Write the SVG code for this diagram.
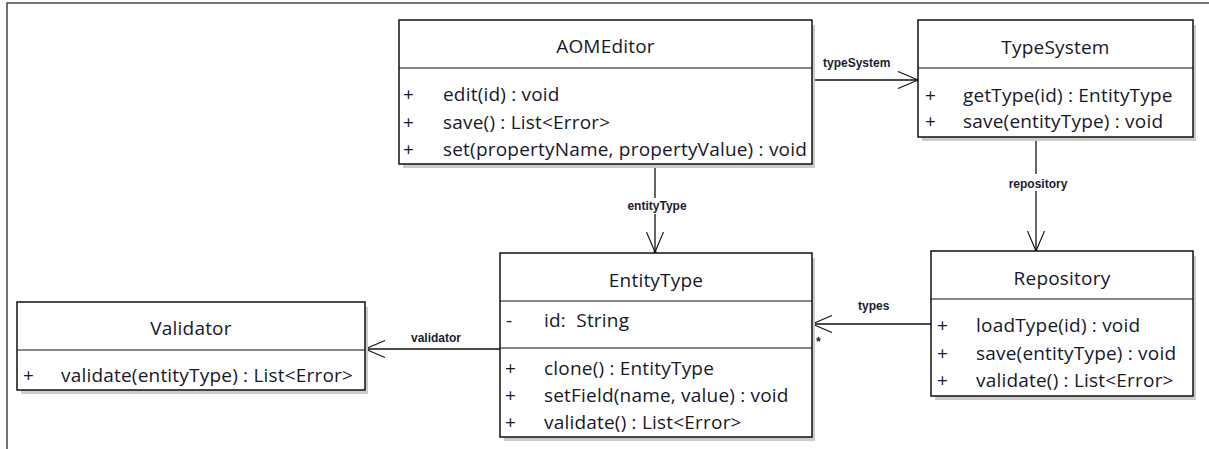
<svg xmlns="http://www.w3.org/2000/svg" width="1209" height="449" viewBox="0 0 1209 449">
<style>
.frame{fill:none;stroke:#444;stroke-width:1.5}
.shadow{fill:#cccccc}
.box{fill:#fff;stroke:#111;stroke-width:1.5}
.div{stroke:#111;stroke-width:1.2}
.t{font-family:"Open Sans","Liberation Sans",sans-serif;font-size:19px;letter-spacing:0.2px;fill:#18182a;white-space:pre}
.c{text-anchor:middle}
.line{fill:none;stroke:#111;stroke-width:1.3}
.lbl{font-family:"Liberation Sans",Arial,sans-serif;font-size:12px;font-weight:bold;fill:#1c1c30}
</style>
<defs>
<marker id="open" markerUnits="userSpaceOnUse" viewBox="-22 -10 24 20" refX="0" refY="0" markerWidth="24" markerHeight="20" orient="auto">
<path d="M-20,-8.5 L0,0 L-20,8.5" fill="none" stroke="#111" stroke-width="1.1"/>
<circle cx="0" cy="0" r="1.6" fill="#111"/>
</marker>
</defs>
<rect width="1209" height="449" fill="#fff"/>
<polyline class="frame" points="7,449 7,3 1209,3"/>

<g id="connectors">
<path class="line" d="M812,80 H918" marker-end="url(#open)"/>
<text class="lbl" x="823" y="67">typeSystem</text>
<path class="line" d="M655,164 V252" marker-end="url(#open)"/>
<rect x="624" y="198" width="66" height="16" fill="#fff"/>
<text class="lbl c" x="657" y="210">entityType</text>
<path class="line" d="M1036,137 V251" marker-end="url(#open)"/>
<rect x="1004" y="174" width="68" height="17" fill="#fff"/>
<text class="lbl c" x="1038" y="188">repository</text>
<path class="line" d="M931,324 H812" marker-end="url(#open)"/>
<text class="lbl" x="858" y="310">types</text>
<text class="lbl" x="816" y="346" font-size="9">*</text>
<path class="line" d="M500,349 H365" marker-end="url(#open)"/>
<text class="lbl" x="411" y="342">validator</text>
</g>

<g id="AOMEditor">
<rect class="shadow" x="403" y="25" width="412" height="143"/>
<rect class="box" x="399" y="20" width="413" height="144"/>
<line class="div" x1="399" y1="68" x2="812" y2="68"/>
<text class="t c" x="605.5" y="53">AOMEditor</text>
<text class="t" x="403" y="101">+</text><text class="t" x="443" y="101">edit(id) : void</text>
<text class="t" x="403" y="128.5">+</text><text class="t" x="443" y="128.5">save() : List&lt;Error&gt;</text>
<text class="t" x="403" y="156">+</text><text class="t" x="443" y="156">set(propertyName, propertyValue) : void</text>
</g>

<g id="TypeSystem">
<rect class="shadow" x="922" y="25" width="274" height="116"/>
<rect class="box" x="918" y="20" width="275" height="117"/>
<line class="div" x1="918" y1="68" x2="1193" y2="68"/>
<text class="t c" x="1055.5" y="54">TypeSystem</text>
<text class="t" x="925" y="102">+</text><text class="t" x="963" y="102">getType(id) : EntityType</text>
<text class="t" x="925" y="128">+</text><text class="t" x="963" y="128">save(entityType) : void</text>
</g>

<g id="EntityType">
<rect class="shadow" x="504" y="258" width="311" height="183"/>
<rect class="box" x="500" y="253" width="312" height="184"/>
<line class="div" x1="500" y1="301" x2="812" y2="301"/>
<line class="div" x1="500" y1="348" x2="812" y2="348"/>
<text class="t c" x="656" y="287">EntityType</text>
<text class="t" x="506" y="327">-</text><text class="t" x="544" y="327">id:  String</text>
<text class="t" x="505" y="375">+</text><text class="t" x="544" y="375">clone() : EntityType</text>
<text class="t" x="505" y="402">+</text><text class="t" x="544" y="402">setField(name, value) : void</text>
<text class="t" x="505" y="429">+</text><text class="t" x="544" y="429">validate() : List&lt;Error&gt;</text>
</g>

<g id="Repository">
<rect class="shadow" x="935" y="256" width="261" height="144"/>
<rect class="box" x="931" y="251" width="262" height="145"/>
<line class="div" x1="931" y1="299" x2="1193" y2="299"/>
<text class="t c" x="1062" y="285">Repository</text>
<text class="t" x="937" y="332">+</text><text class="t" x="976" y="332">loadType(id) : void</text>
<text class="t" x="937" y="360">+</text><text class="t" x="976" y="360">save(entityType) : void</text>
<text class="t" x="937" y="387">+</text><text class="t" x="976" y="387">validate() : List&lt;Error&gt;</text>
</g>

<g id="Validator">
<rect class="shadow" x="21" y="307" width="347" height="87"/>
<rect class="box" x="17" y="302" width="348" height="88"/>
<line class="div" x1="17" y1="350" x2="365" y2="350"/>
<text class="t c" x="191" y="335">Validator</text>
<text class="t" x="23" y="382">+</text><text class="t" x="61" y="382">validate(entityType) : List&lt;Error&gt;</text>
</g>
</svg>
